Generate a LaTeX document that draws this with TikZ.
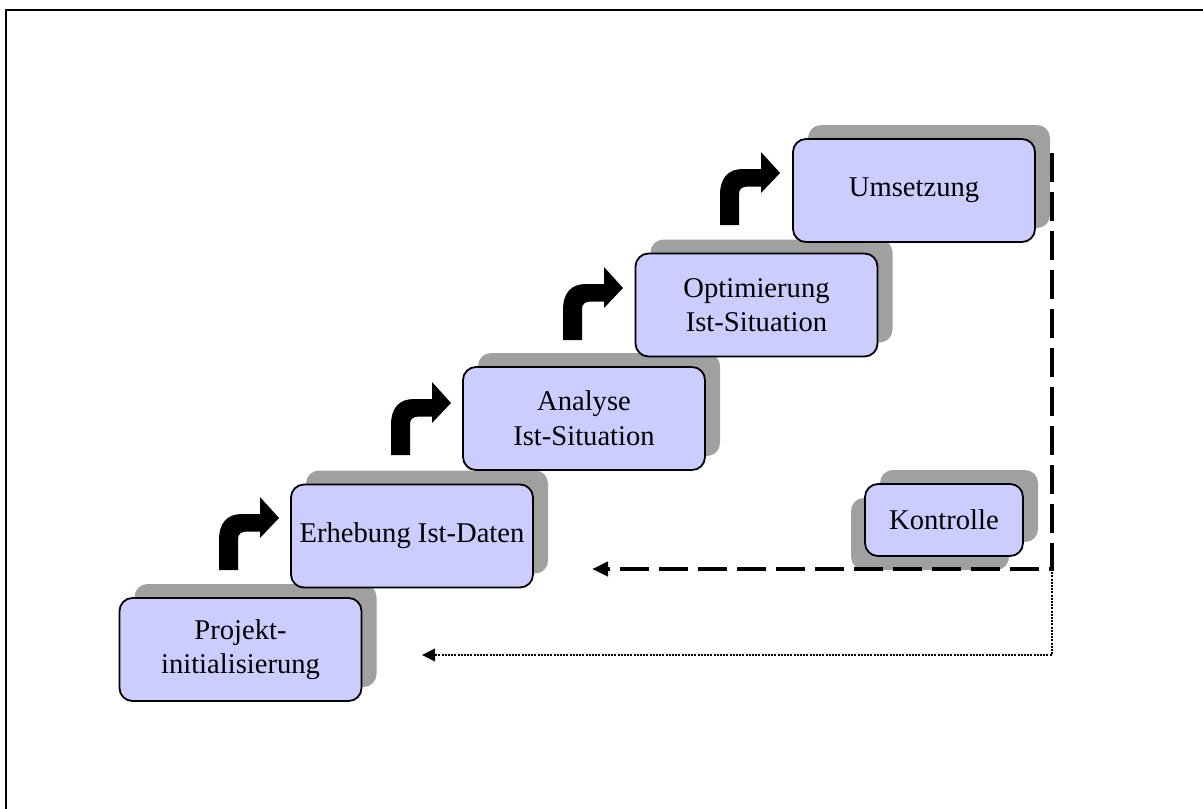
\documentclass[tikz,border=0pt]{standalone}
\usepackage{fontspec}
\setmainfont{Liberation Serif}
\usetikzlibrary{shadows,arrows.meta}
\definecolor{stepfill}{RGB}{204,204,255}
\definecolor{stepshade}{RGB}{160,160,160}

\tikzset{
  stepbox/.style={draw=black, line width=0.9pt, fill=stepfill,
    rounded corners=6.5pt, minimum width=121pt, minimum height=51.5pt,
    inner sep=0pt, align=center,
    font=\fontsize{14.3}{17.3}\selectfont,
    general shadow={fill=stepshade, shadow xshift=7.5pt, shadow yshift=7pt}},
  checkbox/.style={stepbox, minimum width=79pt, minimum height=36pt,
    general shadow={fill=stepshade, shadow xshift=-7pt, shadow yshift=-7pt}},
  loopline/.style={line width=2pt, dash pattern=on 14.5pt off 5pt,
    -{Triangle[length=8pt,width=7pt]}},
  backline/.style={line width=1pt, dash pattern=on 1pt off 0.6pt,
    -{Triangle[length=6.5pt,width=6.3pt]}},
  turnarrow/.pic={
    \fill[black] (0,0) -- (0,-30)
      .. controls (0,-47) and (8,-56) .. (23,-56)
      -- (41,-56) -- (41,-73) -- (60,-52) -- (41,-32) -- (41,-38.5)
      -- (28,-38.5) .. controls (22,-38.5) and (19,-36) .. (19,-31)
      -- (19,0) -- cycle;
  }
}

\begin{document}
\begin{tikzpicture}[x=0.5pt,y=-0.5pt]
  \clip (0,0) rectangle (1203,808);

  % outer frame (runs past the right and bottom edges)
  \draw[line width=1pt] (5.5,10.5) rectangle (1230,830);

  % the five steps
  \node[stepbox] (s1) at (240.5,649.5) {Projekt-\\initialisierung};
  \node[stepbox] (s2) at (412,536) {Erhebung Ist-Daten};
  \node[stepbox] (s3) at (584,418.5) {Analyse\\Ist-Situation};
  \node[stepbox] (s4) at (756.5,305) {Optimierung\\Ist-Situation};
  \node[stepbox] (s5) at (914,190.5) {Umsetzung};

  % control step
  \node[checkbox] (ctl) at (944,520) {Kontrolle};

  % turn arrows between the steps
  \pic at (219,570) {turnarrow};
  \pic at (391,455) {turnarrow};
  \pic at (563,340) {turnarrow};
  \pic at (720,225) {turnarrow};

  % feedback loops
  \coordinate (loopTop) at (1052,153);
  \coordinate (loopCorner) at (1052,569);
  \coordinate (backA) at (592,569);
  \coordinate (backB) at (422,655);
  \draw[loopline] (loopTop) |- (backA);
  \draw[backline] (loopCorner) |- (backB);
\end{tikzpicture}
\end{document}
